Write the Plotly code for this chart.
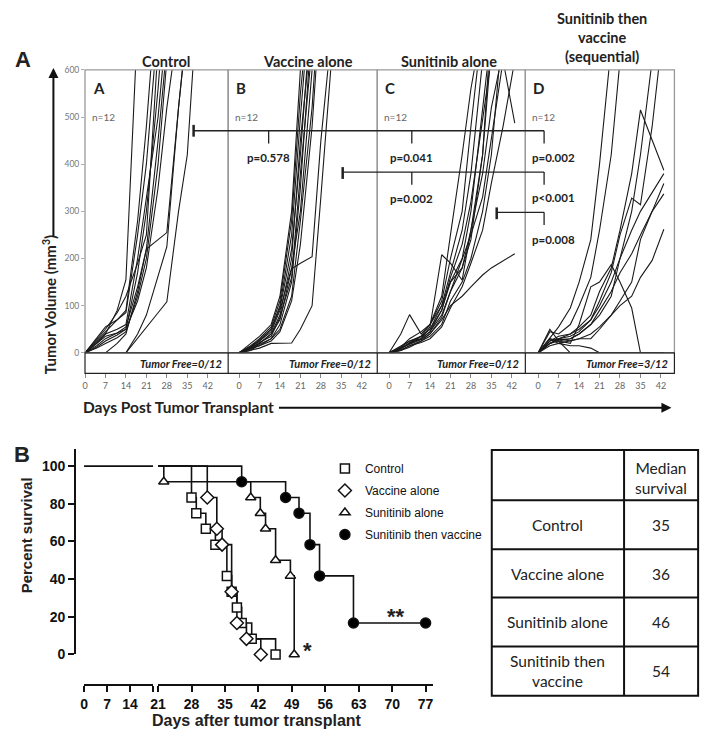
import plotly.graph_objects as go

W, H = 708, 746

# ---------------- Panel A: tumour growth curves ----------------
measure_days = [0, 4, 7, 11, 14, 18, 21, 25, 28, 32, 35, 39, 43]

control_vol = [
    [0, 20, 40, 90, 155, 700],
    [0, 25, 45, 70, 90, 280, 480, 800],
    [0, 30, 55, 70, 85, 250, 400, 700],
    [0, 20, 35, 42, 50, 170, 300, 560, 800],
    [0, 22, 40, 50, 60, 200, 330, 500, 700],
    [0, 15, 30, 42, 55, 140, 220, 240, 255, 520, 700],
    [0, 28, 50, 85, 120, 190, 250, 650],
    [0, 10, 20, 32, 45, 120, 200, 400, 620],
    [None, None, 0, 20, 40, 130, 220, 450, 650],
    [None, None, None, None, 0, 30, 55, 85, 108, 300, 420, 800],
    [None, None, None, None, 0, 40, 80, 160, 225, 520, 700],
    [0, 12, 25, 38, 50, 110, 180, 350, 520, 700],
]
vaccine_vol = [
    [0, 10, 20, 40, 80, 200, 450, 700],
    [0, 15, 25, 50, 100, 250, 500, 800],
    [0, 10, 15, 30, 60, 150, 350, 700],
    [0, 12, 25, 45, 90, 180, 300, 600, 900],
    [0, 5, 10, 20, 20, 21, 50, 100, 330, 650],
    [0, 8, 20, 40, 70, 178, 190, 204, 450, 700],
    [0, 15, 30, 55, 110, 280, 550, 800],
    [0, 20, 35, 60, 120, 300, 600, 900],
    [0, 10, 22, 35, 75, 160, 380, 650],
    [0, 5, 18, 30, 50, 120, 280, 520, 800],
    [0, 12, 28, 50, 95, 220, 420, 750],
    [0, 8, 15, 25, 45, 110, 230, 480, 750],
]
sunitinib_vol = [
    [0, 10, 20, 35, 60, 120, 250, 420, 560, 700],
    [0, 15, 25, 30, 55, 208, 190, 154, 260, 420, 700],
    [0, 40, 81, 40, 60, 100, 150, 200, 300, 500, 680],
    [0, 5, 12, 25, 40, 70, 100, 120, 140, 165, 180, 195, 210],
    [0, 10, 20, 30, 45, 80, 130, 200, 250, 330, 450, 620, 487],
    [0, 8, 20, 30, 45, 90, 150, 180, 240, 420, 650],
    [0, 12, 25, 35, 50, 100, 170, 260, 380, 620],
    [0, 5, 15, 25, 35, 60, 110, 150, 200, 300, 420, 700],
    [0, 10, 18, 28, 40, 75, 130, 180, 260, 380, 520, 640],
    [0, 6, 15, 22, 30, 55, 95, 140, 190, 260, 360, 480, 620],
    [0, 12, 30, 45, 60, 110, 200, 300, 480, 700],
    [0, 8, 22, 35, 50, 90, 160, 230, 320, 480, 600, 800],
]
sequential_vol = [
    [0, 30, 55, 95, 150, 240, 400, 650],
    [0, 45, 40, 60, 100, 160, 260, 420, 620],
    [0, 20, 30, 40, 55, 80, 130, 180, 260, 380, 515, 450, 387],
    [0, 25, 30, 35, 45, 70, 110, 170, 250, 328, 314, 480, 700],
    [0, 20, 28, 30, 40, 60, 90, 130, 170, 210, 250, 300, 359],
    [0, 15, 20, 25, 30, 40, 55, 80, 100, 120, 160, 196, 262],
    [0, 20, 25, 20, 60, 140, 150, 187, 150, 95, 0, 0, 0],
    [0, 50, 25, 0, 0, 0, 0, 0, 0, 0, 0, 0, 0],
    [0, 30, 20, 15, 15, 10, 0, 0, 0, 0, 0, 0, 0],
    [0, 30, 25, 30, 40, 60, 80, 120, 200, 300, 420, 620],
    [0, 20, 30, 25, 30, 30, 50, 80, 110, 150, 240, 300, 337],
    [0, 25, 35, 40, 50, 70, 100, 150, 200, 260, 300, 340, 380],
]
growth_groups = [control_vol, vaccine_vol, sunitinib_vol, sequential_vol]
panel_titles = ["Control", "Vaccine alone", "Sunitinib alone",
                "Sunitinib then<br>vaccine<br>(sequential)"]
panel_letters = ["A", "B", "C", "D"]
tumor_free = ["0/12", "0/12", "0/12", "3/12"]
group_n = ["n=12", "n=12", "n=12", "n=12"]
growth_ticks = [0, 7, 14, 21, 28, 35, 42]
volume_ticks = [0, 100, 200, 300, 400, 500, 600]

# ---------------- Panel B: Kaplan-Meier survival ----------------
km_groups = ["Control", "Vaccine alone", "Sunitinib alone", "Sunitinib then vaccine"]
control_days = [28, 29, 31, 33, 35.4, 36.4, 37.5, 38.5, 40.6, 45.6]
control_surv = [83.3, 75, 66.7, 58.3, 41.7, 33.3, 25, 16.7, 8.3, 0]
vaccine_days = [31.3, 33.3, 34.4, 36.4, 37.5, 39.5, 42.5]
vaccine_surv = [83.3, 66.7, 58.3, 33.3, 16.7, 8.3, 0]
sunitinib_days = [22.2, 40.4, 42.4, 43.5, 45.6, 48.7, 49.5]
sunitinib_surv = [91.7, 83.3, 75, 66.7, 50, 41.7, 0]
sequential_days = [38.5, 47.7, 50.5, 52.8, 54.8, 61.9, 77]
sequential_surv = [91.7, 83.3, 75, 58.3, 41.7, 16.7, 16.7]
survival_ticks = [0, 20, 40, 60, 80, 100]
day_ticks_low = [0, 7, 14, 21]
day_ticks_high = [21, 28, 35, 42, 49, 56, 63, 70, 77]

table_groups = ["Control", "Vaccine alone", "Sunitinib alone", "Sunitinib then<br>vaccine"]
median_survival = [35, 36, 46, 54]


def px_x(p):
    return p / W


def px_y(p):
    return 1 - p / H


fig = go.Figure()
shapes = []
annotations = []


def pline(x0, y0, x1, y1, color="#222", width=1.3):
    shapes.append(dict(type="line", xref="paper", yref="paper",
                       x0=px_x(x0), y0=px_y(y0), x1=px_x(x1), y1=px_y(y1),
                       line=dict(color=color, width=width)))


def ptext(x, y, text, size=12, family="Lato", color="#222", weight="normal",
          style="normal", xanchor="center", angle=0):
    annotations.append(dict(x=px_x(x), y=px_y(y), xref="paper", yref="paper",
                            text=text, showarrow=False, xanchor=xanchor, yanchor="middle",
                            textangle=angle,
                            font=dict(size=size, family=family, color=color,
                                      weight=weight, style=style)))


# ---- growth panels ----
panel_left = [78, 223, 374, 524]
panel_right = [223, 374, 524, 675]
day0_px = [78, 234, 386, 537]
px_per_day = 2.96

for i, vols in enumerate(growth_groups):
    n = "" if i == 0 else str(i + 1)
    for v in vols:
        fig.add_trace(go.Scatter(
            x=measure_days[:len(v)], y=v, mode="lines",
            line=dict(color="#1a1a1a", width=1.1),
            xaxis="x" + n, yaxis="y" + n, showlegend=False, hoverinfo="skip"))
    l, r, d0 = panel_left[i], panel_right[i], day0_px[i]
    fig.layout["xaxis" + n] = dict(
        domain=[px_x(l), px_x(r)], range=[(l - d0) / px_per_day, (r - d0) / px_per_day],
        anchor="free", position=px_y(375), showgrid=False, zeroline=False, showline=False,
        tickvals=growth_ticks, ticks="outside", ticklen=4, tickcolor="#888",
        tickfont=dict(size=9, color="#666", family="Lato"))
    fig.layout["yaxis" + n] = dict(
        domain=[px_y(354), px_y(66)], range=[0, 600], anchor="x" + n,
        showgrid=False, zeroline=False, showline=False,
        showticklabels=(i == 0), tickvals=volume_ticks,
        ticks="outside" if i == 0 else "", ticklen=3, tickcolor="#aaa",
        tickfont=dict(size=8.5, color="#777", family="Lato"))
    shapes.append(dict(type="rect", xref="x" + n + " domain", yref="y" + n + " domain",
                       x0=0, x1=1, y0=0, y1=1, line=dict(color="#999", width=1.3)))
    ptext(l + 6, 84, panel_letters[i], size=15, weight="bold", xanchor="left")
    ptext(l + 5, 114, group_n[i], size=10, color="#666", xanchor="left")
    ptext(r - 4, 365, "Tumor Free=" + tumor_free[i], size=11, weight="bold",
          style="italic", xanchor="right")

# tumour-free strip
shapes.append(dict(type="rect", xref="paper", yref="paper", x0=px_x(78), x1=px_x(675),
                   y0=px_y(375), y1=px_y(354), line=dict(color="#222", width=1.2)))
for xd in [223, 374, 524]:
    pline(xd, 354, xd, 375, color="#222", width=1.2)

# panel titles
ptext(160, 58, panel_titles[0], size=14.5, weight="bold")
ptext(304, 58, panel_titles[1], size=14.5, weight="bold")
ptext(447, 58, panel_titles[2], size=14.5, weight="bold")
ptext(602, 33, panel_titles[3], size=14.5, weight="bold")

# p-value brackets
pline(188, 128, 543, 128)
pline(188, 122, 188, 134, width=2.5)
for xd in [264, 409, 543]:
    pline(xd, 128, xd, 141)
pline(339, 170, 543, 170)
pline(339, 165, 339, 177, width=2.5)
for xd in [409, 543]:
    pline(xd, 170, xd, 183)
pline(495, 211, 543, 211)
pline(495, 206, 495, 218, width=2.5)
pline(543, 211, 543, 224)
for (x, y, t) in [(264, 155, "p=0.578"), (409, 155, "p=0.041"), (553, 155, "p=0.002"),
                  (409, 197, "p=0.002"), (553, 196, "p<0.001"), (553, 239, "p=0.008")]:
    ptext(x, y, t, size=11.5, weight="bold")

# axis titles / arrows
ptext(15, 55, "A", size=22, family="Arial", weight="bold")
ptext(42, 305, "Tumor Volume (mm<sup>3</sup>)", size=15, weight="bold", angle=-90)
ptext(173, 409, "Days Post Tumor Transplant", size=15.5, weight="bold")
annotations.append(dict(x=px_x(46), y=px_y(64), ax=0, ay=170,
                        xref="paper", yref="paper", axref="pixel", ayref="pixel",
                        text="", showarrow=True, arrowhead=2, arrowsize=1,
                        arrowwidth=2, arrowcolor="#111"))
annotations.append(dict(x=px_x(672), y=px_y(410), ax=-394, ay=0,
                        xref="paper", yref="paper", axref="pixel", ayref="pixel",
                        text="", showarrow=True, arrowhead=2, arrowsize=1,
                        arrowwidth=2, arrowcolor="#111"))

# ---- survival panel ----
km_days = [control_days, vaccine_days, sunitinib_days, sequential_days]
km_surv = [control_surv, vaccine_surv, sunitinib_surv, sequential_surv]
km_symbols = ["square", "diamond", "triangle-up", "circle"]
km_fill = ["white", "white", "white", "black"]
km_size = [9, 10, 9, 10]

# common segment before the axis break
fig.add_trace(go.Scatter(x=[0, 21], y=[100, 100], mode="lines",
                         line=dict(color="#111", width=1.6), xaxis="x5", yaxis="y5",
                         showlegend=False, hoverinfo="skip"))
for g in range(4):
    fig.add_trace(go.Scatter(
        x=[21] + km_days[g], y=[100] + km_surv[g], mode="lines", line_shape="hv",
        line=dict(color="#111", width=1.6), xaxis="x6", yaxis="y5",
        showlegend=False, hoverinfo="skip", cliponaxis=False))
for g in range(4):
    fig.add_trace(go.Scatter(
        x=km_days[g], y=km_surv[g], mode="markers", name=km_groups[g],
        legendgroup=km_groups[g],
        marker=dict(symbol=km_symbols[g], size=km_size[g], color=km_fill[g],
                    line=dict(color="#111", width=1.5)),
        xaxis="x6", yaxis="y5", cliponaxis=False))

axis_font = dict(size=14, family="Arial", color="#111", weight="bold")
fig.layout.xaxis5 = dict(domain=[px_x(77), px_x(147)], range=[0, 21], anchor="free",
                         position=px_y(692), showgrid=False, zeroline=False,
                         showline=True, linewidth=2, linecolor="#111",
                         tickvals=day_ticks_low, ticktext=["0", "7", "14", ""],
                         ticks="outside", ticklen=6, tickwidth=2, tickcolor="#111",
                         tickfont=axis_font)
fig.layout.xaxis6 = dict(domain=[px_x(152), px_x(430)], range=[21, 78.45], anchor="free",
                         position=px_y(692), showgrid=False, zeroline=False,
                         showline=True, linewidth=2, linecolor="#111",
                         tickvals=day_ticks_high, ticks="outside", ticklen=6,
                         tickwidth=2, tickcolor="#111", tickfont=axis_font)
fig.layout.yaxis5 = dict(domain=[px_y(661), px_y(452)], range=[0, 109], anchor="free",
                         position=px_x(68), showgrid=False, zeroline=False,
                         showline=True, linewidth=2, linecolor="#111",
                         tickvals=survival_ticks, ticks="outside", ticklen=6,
                         tickwidth=2, tickcolor="#111", tickfont=axis_font)

ptext(14, 457, "B", size=22, family="Arial", weight="bold")
ptext(19, 540, "Percent survival", size=15, family="Arial", weight="bold", angle=-90)
ptext(252, 728, "Days after tumor transplant", size=16, family="Arial", weight="bold")
ptext(303, 657, "*", size=22, family="Arial", weight="bold")
ptext(393, 622, "**", size=22, family="Arial", weight="bold")

# median survival table
shapes.append(dict(type="rect", xref="paper", yref="paper", x0=px_x(490), x1=px_x(699),
                   y0=px_y(703), y1=px_y(453), line=dict(color="#111", width=2)))
pline(624, 453, 624, 703, color="#111", width=2)
row_lines = [504, 554, 603, 653]
for yl in row_lines:
    pline(490, yl, 699, yl, color="#111", width=2)
ptext(661, 481, "Median<br>survival", size=15.5)
row_centers = [529, 579, 628, 678]
for k in range(4):
    ptext(557, row_centers[k], table_groups[k], size=15.5)
    ptext(661, row_centers[k], str(median_survival[k]), size=15.5)

fig.update_layout(
    width=W, height=H, margin=dict(l=0, r=0, t=0, b=0),
    paper_bgcolor="white", plot_bgcolor="white",
    shapes=shapes, annotations=annotations,
    showlegend=True,
    legend=dict(x=px_x(321), y=px_y(457), xanchor="left", yanchor="top",
                font=dict(size=12, family="Arial", color="#111"),
                bgcolor="rgba(0,0,0,0)", itemwidth=30,
                traceorder="grouped", tracegroupgap=3),
)

fig.write_html("out.html", config={"displayModeBar": False},
               post_script="document.body.style.margin = '0px';")
